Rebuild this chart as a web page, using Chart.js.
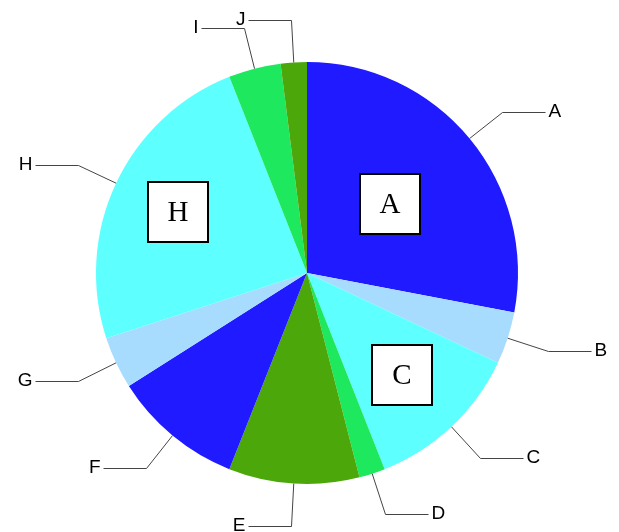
<!DOCTYPE html>
<html>
<head>
<meta charset="utf-8">
<script src="https://cdn.jsdelivr.net/npm/chart.js@4/dist/chart.umd.min.js"></script>
<style>
  html, body { margin: 0; padding: 0; background: #fff; }
  canvas { display: block; }
</style>
</head>
<body>
<canvas id="pie" width="619" height="532"></canvas>
<script>
// data (percent of the whole)
var categories = ["A", "B", "C", "D", "E", "F", "G", "H", "I", "J"];
var values = [28, 4, 12, 2, 10, 10, 4, 24, 4, 2];
var sliceColors = ['#1f1aff', '#a8dcff', '#5effff', '#1ee85e', '#4ca80a',
                   '#1f1aff', '#a8dcff', '#5effff', '#1ee85e', '#4ca80a'];

// slices that get a boxed label inside, and how far out from the centre
var boxedLabels = ["A", "C", "H"];
var boxRadius = [0.51, 0.66, 0.675];

// leader lines with the category name outside the pie
var calloutPlugin = {
    id: 'callouts',
    afterDatasetsDraw: function (chart) {
        var ctx = chart.ctx;
        var arcs = chart.getDatasetMeta(0).data;
        ctx.save();
        arcs.forEach(function (arc, i) {
            var mid = (arc.startAngle + arc.endAngle) / 2;
            var r = arc.outerRadius;
            var cos = Math.cos(mid), sin = Math.sin(mid);
            var x0 = arc.x + r * cos, y0 = arc.y + r * sin;
            var x1 = Math.round(arc.x + r * 1.2 * cos) + 0.5;
            var y1 = Math.round(arc.y + r * 1.2 * sin) + 0.5;
            var dir = cos >= 0 ? 1 : -1;
            var x2 = x1 + dir * 43;

            ctx.strokeStyle = '#444';
            ctx.lineWidth = 1;
            ctx.beginPath();
            ctx.moveTo(x0, y0);
            ctx.lineTo(x1, y1);
            ctx.lineTo(x2, y1);
            ctx.stroke();

            ctx.fillStyle = '#000';
            ctx.font = '19px "Liberation Sans", Arial, sans-serif';
            ctx.textBaseline = 'middle';
            ctx.textAlign = dir > 0 ? 'left' : 'right';
            ctx.fillText(categories[i], x2 + dir * 3, y1 - 1);

            var b = boxedLabels.indexOf(categories[i]);
            if (b >= 0) {
                var bx = Math.round(arc.x + r * boxRadius[b] * cos);
                var by = Math.round(arc.y + r * boxRadius[b] * sin);
                ctx.fillStyle = '#fff';
                ctx.fillRect(bx - 30, by - 30, 60, 60);
                ctx.strokeStyle = '#000';
                ctx.lineWidth = 2;
                ctx.strokeRect(bx - 30, by - 30, 60, 60);
                ctx.fillStyle = '#000';
                ctx.font = '29px "Liberation Serif", "Times New Roman", serif';
                ctx.textAlign = 'center';
                ctx.fillText(categories[i], bx, by + 1);
            }
        });
        ctx.restore();
    }
};

var ctx = document.getElementById("pie");

var chartPie = new Chart(ctx, {
    type: 'pie',
    data: {
        labels: categories,
        datasets: [{
            data: values,
            backgroundColor: sliceColors,
            borderWidth: 0
        }]
    },
    options: {
        responsive: false,
        animation: false,
        layout: { padding: { top: 62, bottom: 48, left: 96, right: 101 } },
        plugins: {
            legend: { display: false },
            tooltip: { enabled: false }
        }
    },
    plugins: [calloutPlugin]
});
</script>
</body>
</html>
